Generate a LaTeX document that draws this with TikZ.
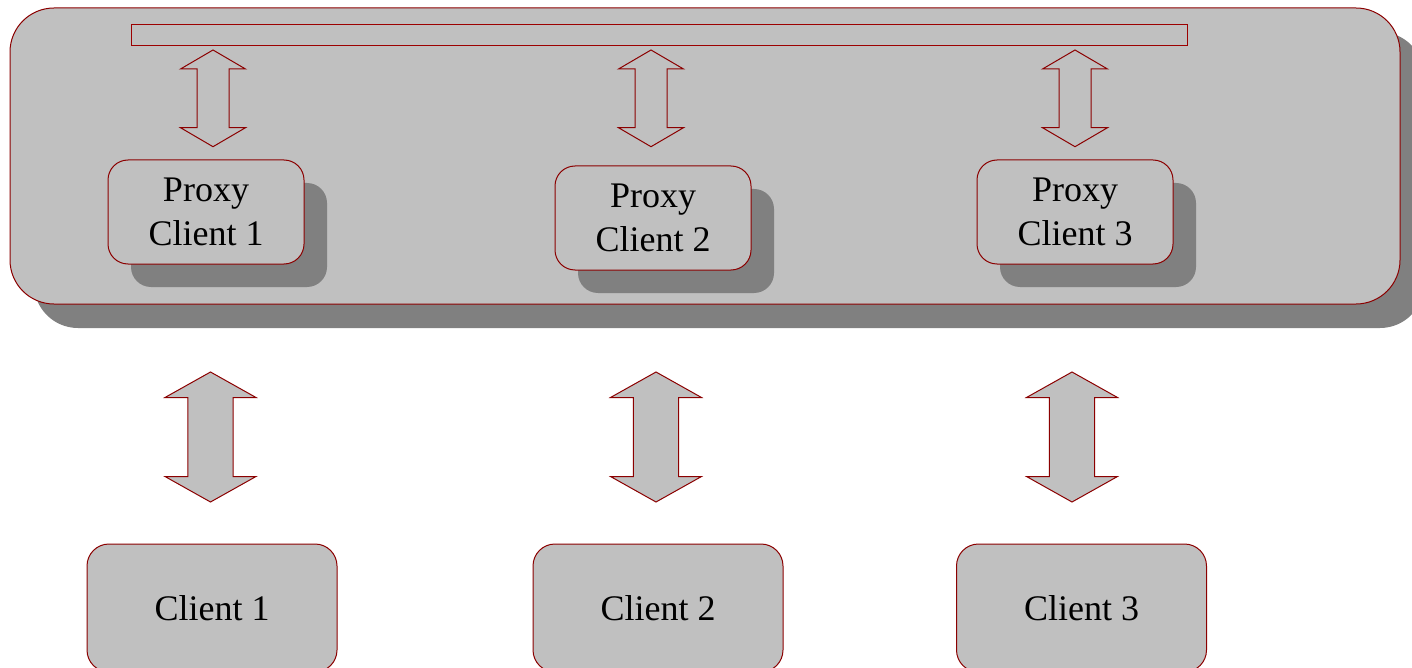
\documentclass[tikz,border=0pt]{standalone}
\usepackage{fontspec}
\setmainfont{Liberation Serif}
\usetikzlibrary{shadows}
\definecolor{boxfill}{HTML}{C0C0C0}
\definecolor{boxshadow}{HTML}{808080}
\definecolor{boxline}{HTML}{8B0000}
\begin{document}
\begin{tikzpicture}[x=1pt,y=-1pt,
  txt/.style={font=\fontsize{36}{44}\selectfont, align=center, text=black},
  box/.style={draw=boxline, fill=boxfill, line width=1pt, inner sep=0pt, txt},
  shadowed/.style={drop shadow={shadow xshift=#1, shadow yshift=-#1, fill=boxshadow, opacity=1}},
  arrowline/.style={draw=boxline, fill=boxfill, line width=1pt, line join=miter},
  pics/biarrow/.style args={#1/#2/#3/#4}{code={
    \draw[arrowline] (0,0) -- (#2,#4) -- (#3,#4) -- (#3,#1-#4) -- (#2,#1-#4)
      -- (0,#1) -- (-#2,#1-#4) -- (-#3,#1-#4) -- (-#3,#4) -- (-#2,#4) -- cycle;}}
]
\useasboundingbox (0,0) rectangle (1412,668);
\clip (0,0) rectangle (1412,668);

% server frame
\node[box, shadowed=24pt, rounded corners=44pt, minimum width=1390pt, minimum height=296pt]
  (server) at (705,156) {};

% shared bus
\node[box, draw=boxline!85!red, minimum width=1056pt, minimum height=21pt] (bus) at (659.5,35) {};

% proxy clients
\node[box, shadowed=23pt, rounded corners=20pt, minimum width=196pt, minimum height=104pt]
  (p1) at (206,212) {Proxy\\Client 1};
\node[box, shadowed=23pt, rounded corners=20pt, minimum width=196pt, minimum height=104pt]
  (p2) at (653,218) {Proxy\\Client 2};
\node[box, shadowed=23pt, rounded corners=20pt, minimum width=196pt, minimum height=104pt]
  (p3) at (1075,212) {Proxy\\Client 3};

% bus <-> proxy arrows
\pic (a1) at (213,50) {biarrow={96.7/32.5/16/19}};
\pic (a2) at (651,50) {biarrow={96.7/32.5/16/19}};
\pic (a3) at (1075,50) {biarrow={96.7/32.5/16/19}};

% clients
\node[box, rounded corners=22pt, minimum width=250pt, minimum height=128pt]
  (c1) at (212,608) {Client 1};
\node[box, rounded corners=22pt, minimum width=250pt, minimum height=128pt]
  (c2) at (658,608) {Client 2};
\node[box, rounded corners=22pt, minimum width=250pt, minimum height=128pt]
  (c3) at (1081.5,608) {Client 3};

% client <-> server arrows
\pic (b1) at (210.5,372) {biarrow={130/45.5/22.7/25.5}};
\pic (b2) at (656,372) {biarrow={130/45.5/22.7/25.5}};
\pic (b3) at (1072,372) {biarrow={130/45.5/22.7/25.5}};
\end{tikzpicture}
\end{document}
